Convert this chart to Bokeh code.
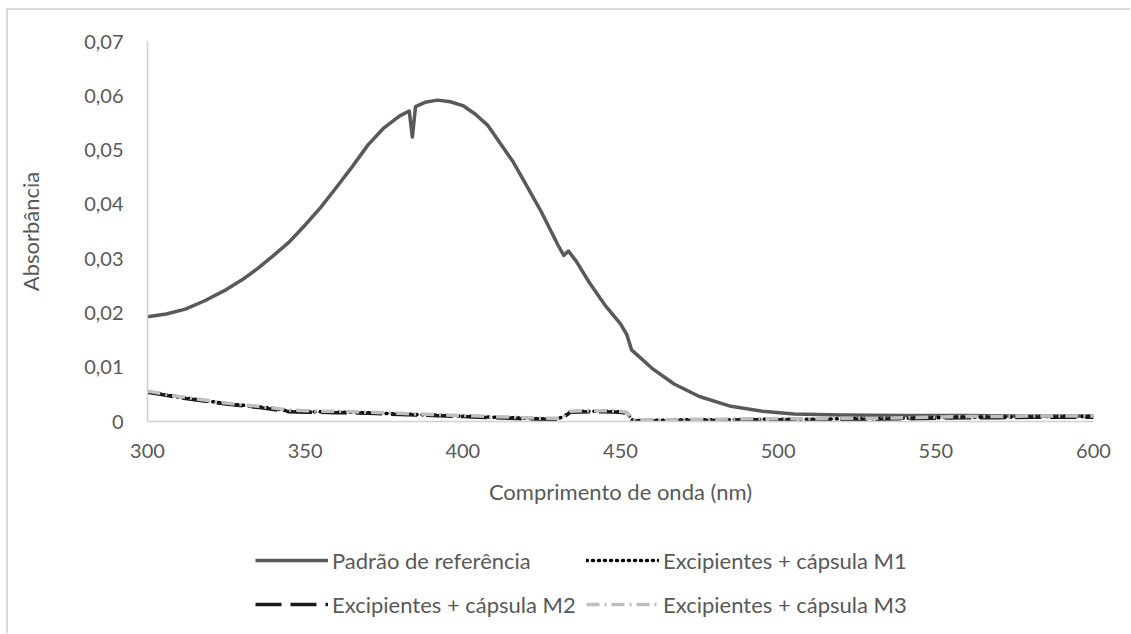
from bokeh.plotting import figure
from bokeh.layouts import column
from bokeh.models import Range1d, FixedTicker, Legend, LegendItem
from bokeh.embed import file_html
from bokeh.resources import INLINE

# ---- data ----
wl_ref = [300, 306, 312, 318, 325, 330, 335, 340, 345, 350, 355, 360, 365, 370, 375,
          380, 383, 384, 385, 388, 392, 396, 400, 404, 408, 412, 416, 420, 425, 430,
          432, 433.5, 436, 440, 445, 450, 452, 453.5, 460, 467, 475, 485, 495, 505,
          520, 540, 560, 580, 600]
abs_ref = [0.0193, 0.0198, 0.0207, 0.0222, 0.0243, 0.0261, 0.0282, 0.0306, 0.0331, 0.0362,
           0.0395, 0.0432, 0.0470, 0.0510, 0.0541, 0.0563, 0.0572, 0.0524, 0.0580, 0.0588,
           0.0592, 0.0589, 0.0582, 0.0566, 0.0545, 0.0511, 0.0478, 0.0437, 0.0385, 0.0327,
           0.0306, 0.0314, 0.0295, 0.0257, 0.0215, 0.0180, 0.0160, 0.0132, 0.0098, 0.0069,
           0.0046, 0.0028, 0.0019, 0.0014, 0.0012, 0.0011, 0.0011, 0.0010, 0.0010]

wl_exc = [300, 305, 310, 315, 320, 325, 330, 335, 340, 345,
          350, 355, 360, 365, 370, 375, 380, 385, 390, 395,
          400, 405, 410, 415, 420, 425, 430, 432, 434, 440,
          445, 450, 452, 454, 460, 470, 480, 490, 500, 510,
          520, 530, 540, 550, 560, 570, 580, 590, 600]
abs_m1 = [0.0055, 0.0050, 0.0045, 0.0041, 0.0037, 0.0033, 0.0030, 0.0027, 0.0024, 0.0019,
          0.0018, 0.0018, 0.0017, 0.0017, 0.0016, 0.0015, 0.0014, 0.0013, 0.0012, 0.0011,
          0.0010, 0.0009, 0.0008, 0.0007, 0.0006, 0.0005, 0.0005, 0.0009, 0.0018, 0.0019,
          0.0019, 0.0018, 0.0016, 0.0002, 0.0002, 0.0003, 0.0003, 0.0004, 0.0004, 0.0004,
          0.0005, 0.0005, 0.0006, 0.0007, 0.0008, 0.0008, 0.0009, 0.0009, 0.0009]
abs_m2 = [0.0054, 0.0049, 0.0044, 0.0040, 0.0036, 0.0032, 0.0029, 0.0026, 0.0022, 0.0018,
          0.0017, 0.0017, 0.0016, 0.0016, 0.0015, 0.0014, 0.0013, 0.0012, 0.0011, 0.0010,
          0.0009, 0.0008, 0.0007, 0.0006, 0.0005, 0.0004, 0.0004, 0.0008, 0.0017, 0.0018,
          0.0018, 0.0017, 0.0015, 0.0001, 0.0001, 0.0002, 0.0002, 0.0003, 0.0003, 0.0003,
          0.0004, 0.0004, 0.0005, 0.0006, 0.0007, 0.0007, 0.0008, 0.0008, 0.0008]
abs_m3 = [0.0056, 0.0051, 0.0046, 0.0042, 0.0038, 0.0034, 0.0031, 0.0028, 0.0025, 0.0021,
          0.0020, 0.0019, 0.0019, 0.0018, 0.0017, 0.0016, 0.0015, 0.0014, 0.0013, 0.0012,
          0.0011, 0.0010, 0.0009, 0.0008, 0.0007, 0.0006, 0.0006, 0.0010, 0.0019, 0.0020,
          0.0020, 0.0019, 0.0017, 0.0003, 0.0003, 0.0004, 0.0004, 0.0005, 0.0005, 0.0005,
          0.0006, 0.0006, 0.0007, 0.0008, 0.0009, 0.0009, 0.0010, 0.0010, 0.0010]

series_names = ["Padrão de referência", "Excipientes + cápsula M1",
                "Excipientes + cápsula M2", "Excipientes + cápsula M3"]
x_ticks = [300, 350, 400, 450, 500, 550, 600]
y_ticks = [0, 0.01, 0.02, 0.03, 0.04, 0.05, 0.06, 0.07]
y_tick_labels = ["0", "0,01", "0,02", "0,03", "0,04", "0,05", "0,06", "0,07"]

FONT = "Lato"
TXT = "#595959"
AXIS = "#d0d0d0"

STYLES = [dict(line_color="#595959", line_width=3.5, line_join="round"),
          dict(line_color="#000000", line_width=3.5, line_dash="1 5",
               line_cap="round", line_join="round"),
          dict(line_color="#1a1a1a", line_width=3.5, line_dash="26 9", line_join="round"),
          dict(line_color="#bfbfbf", line_width=3.5, line_dash="13 5 2 5", line_join="round")]
SERIES_X = [wl_ref, wl_exc, wl_exc, wl_exc]
SERIES_Y = [abs_ref, abs_m1, abs_m2, abs_m3]

# ---- main plot ----
p = figure(width=1122, height=510, output_backend="svg", toolbar_location=None,
           x_range=Range1d(300, 600), y_range=Range1d(0, 0.07),
           min_border_left=139, min_border_top=31, min_border_right=37,
           min_border_bottom=99)
p.outline_line_color = None
p.grid.visible = False
p.background_fill_color = "white"
p.border_fill_color = "white"

for xs, ys, st in zip(SERIES_X, SERIES_Y, STYLES):
    p.line(xs, ys, **st)

for ax in (p.xaxis[0], p.yaxis[0]):
    ax.axis_line_color = AXIS
    ax.axis_line_width = 1.5
    ax.major_tick_line_color = None
    ax.minor_tick_line_color = None
    ax.major_tick_out = 0
    ax.major_tick_in = 0
    ax.major_label_text_font = FONT
    ax.major_label_text_font_size = "20px"
    ax.major_label_text_color = TXT
    ax.axis_label_text_font = FONT
    ax.axis_label_text_font_size = "22px"
    ax.axis_label_text_font_style = "normal"
    ax.axis_label_text_color = TXT

p.xaxis.ticker = FixedTicker(ticks=x_ticks)
p.yaxis.ticker = FixedTicker(ticks=y_ticks)
p.yaxis.major_label_overrides = {t: l for t, l in zip(y_ticks, y_tick_labels)}
p.xaxis.axis_label = "Comprimento de onda (nm)"
p.yaxis.axis_label = "Absorbância"
p.xaxis.major_label_standoff = 22
p.xaxis.axis_label_standoff = 17
p.yaxis.major_label_standoff = 24
p.yaxis.axis_label_standoff = 37

# ---- legend strip (same series, drawn outside its view so only the legend shows) ----
q = figure(width=1122, height=113, output_backend="svg", toolbar_location=None,
           x_axis_type=None, y_axis_type=None, x_range=Range1d(0, 1), y_range=Range1d(0, 1),
           min_border=0)
q.outline_line_color = None
q.grid.visible = False
q.border_fill_color = "white"
leg_renderers = [q.line(xs, ys, **st) for xs, ys, st in zip(SERIES_X, SERIES_Y, STYLES)]

order = [0, 2, 1, 3]  # column-major fill -> rows: (ref, M1), (M2, M3)
legend = Legend(items=[LegendItem(label=series_names[i], renderers=[leg_renderers[i]])
                       for i in order],
                ncols=2, location=(108, 9))
legend.border_line_color = None
legend.background_fill_alpha = 0
legend.padding = 0
legend.margin = 0
legend.spacing = 4
legend.glyph_width = 73
legend.label_standoff = 4
legend.label_width = 250
legend.label_height = 40
legend.glyph_height = 40
legend.label_text_font = FONT
legend.label_text_font_size = "22px"
legend.label_text_color = TXT
legend.label_text_baseline = "middle"
q.add_layout(legend)

layout = column(p, q, spacing=0,
                styles={"border-left": "2px solid #d9d9d9", "border-top": "2px solid #d9d9d9",
                        "margin-left": "6px", "margin-top": "8px"})

open("out.html", "w").write(file_html(layout, INLINE))
